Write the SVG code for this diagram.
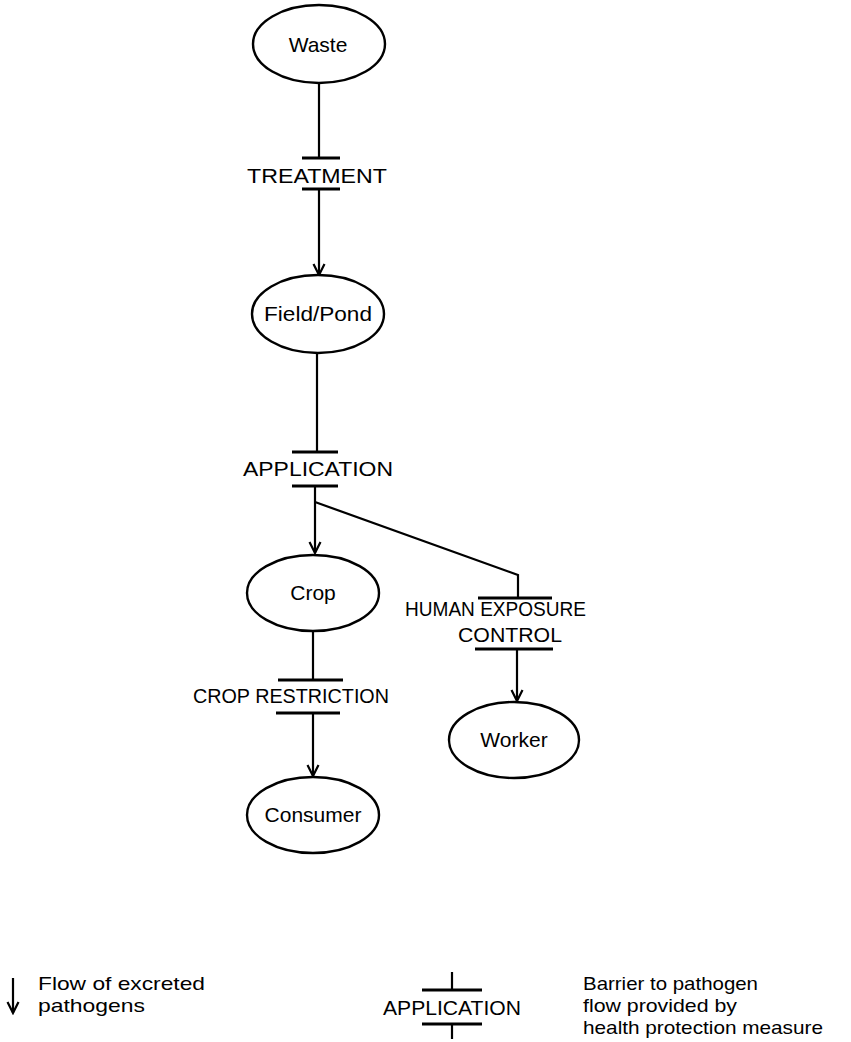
<svg xmlns="http://www.w3.org/2000/svg" width="851" height="1042" viewBox="0 0 851 1042">
<defs>
<marker id="arr" markerWidth="14" markerHeight="14" refX="12" refY="7" orient="auto" markerUnits="userSpaceOnUse">
<path d="M1,1.5 L12,7 L1,12.5" fill="none" stroke="#000" stroke-width="2.2"/>
</marker>
<style>
.node ellipse{fill:#fff;stroke:#000;stroke-width:2.4}
.nt{font-family:"Liberation Sans",Arial,sans-serif;font-size:21px;text-anchor:middle;fill:#000}
.lbl{font-family:"Liberation Sans",Arial,sans-serif;font-size:20px;fill:#000}
.leg{font-family:"Liberation Sans",Arial,sans-serif;font-size:19px;fill:#000}
.ln{stroke:#000;stroke-width:2.2;fill:none}
.bar{stroke:#000;stroke-width:3;fill:none}
</style>
</defs>
<rect width="851" height="1042" fill="#fff"/>
<g id="connectors">
<line class="ln" x1="319" y1="83" x2="319" y2="158"/>
<line class="ln" x1="319" y1="189" x2="319" y2="275" marker-end="url(#arr)"/>
<line class="ln" x1="317" y1="353" x2="317" y2="452"/>
<line class="ln" x1="315" y1="486" x2="315" y2="553" marker-end="url(#arr)"/>
<polyline class="ln" points="315,502 518,575 518,598"/>
<line class="ln" x1="517" y1="649" x2="517" y2="701" marker-end="url(#arr)"/>
<line class="ln" x1="313" y1="631" x2="313" y2="680"/>
<line class="ln" x1="313" y1="713" x2="313" y2="776" marker-end="url(#arr)"/>
</g>
<g id="barrier-treatment">
<line class="bar" x1="302" y1="158" x2="340" y2="158"/>
<text class="lbl" x="247" y="183" textLength="140" lengthAdjust="spacingAndGlyphs">TREATMENT</text>
<line class="bar" x1="302" y1="189" x2="340" y2="189"/>
</g>
<g id="barrier-application">
<line class="bar" x1="292" y1="452" x2="338" y2="452"/>
<text class="lbl" x="243" y="476" textLength="150" lengthAdjust="spacingAndGlyphs">APPLICATION</text>
<line class="bar" x1="292" y1="486" x2="338" y2="486"/>
</g>
<g id="barrier-human-exposure">
<line class="bar" x1="478" y1="598" x2="552" y2="598"/>
<text class="lbl" x="405" y="616" textLength="181" lengthAdjust="spacingAndGlyphs">HUMAN EXPOSURE</text>
<text class="lbl" x="458" y="642" textLength="104" lengthAdjust="spacingAndGlyphs">CONTROL</text>
<line class="bar" x1="475" y1="649" x2="553" y2="649"/>
</g>
<g id="barrier-crop-restriction">
<line class="bar" x1="278" y1="680" x2="343" y2="680"/>
<text class="lbl" x="193" y="703" textLength="196" lengthAdjust="spacingAndGlyphs">CROP RESTRICTION</text>
<line class="bar" x1="276" y1="713" x2="340" y2="713"/>
</g>
<g id="node-waste" class="node">
<ellipse cx="319" cy="44" rx="66" ry="39"/>
<text class="nt" x="318" y="52">Waste</text>
</g>
<g id="node-field-pond" class="node">
<ellipse cx="318" cy="314" rx="66" ry="39"/>
<text class="nt" x="318" y="321" textLength="108" lengthAdjust="spacingAndGlyphs">Field/Pond</text>
</g>
<g id="node-crop" class="node">
<ellipse cx="313" cy="593" rx="66" ry="38"/>
<text class="nt" x="313" y="600">Crop</text>
</g>
<g id="node-worker" class="node">
<ellipse cx="514" cy="740" rx="65" ry="38"/>
<text class="nt" x="514" y="747">Worker</text>
</g>
<g id="node-consumer" class="node">
<ellipse cx="313" cy="815" rx="66" ry="38"/>
<text class="nt" x="313" y="822">Consumer</text>
</g>
<g id="legend">
<line class="ln" x1="13" y1="978" x2="13" y2="1013" marker-end="url(#arr)"/>
<text class="leg" x="38" y="990" textLength="167" lengthAdjust="spacingAndGlyphs">Flow of excreted</text>
<text class="leg" x="38" y="1012" textLength="107" lengthAdjust="spacingAndGlyphs">pathogens</text>
<line class="ln" x1="452" y1="972" x2="452" y2="990"/>
<line class="bar" x1="422" y1="990" x2="482" y2="990"/>
<text class="lbl" x="383" y="1015" textLength="138" lengthAdjust="spacingAndGlyphs">APPLICATION</text>
<line class="bar" x1="422" y1="1024" x2="482" y2="1024"/>
<line class="ln" x1="452" y1="1024" x2="452" y2="1039"/>
<text class="leg" x="583" y="990" textLength="175" lengthAdjust="spacingAndGlyphs">Barrier to pathogen</text>
<text class="leg" x="583" y="1012" textLength="154" lengthAdjust="spacingAndGlyphs">flow provided by</text>
<text class="leg" x="583" y="1034" textLength="240" lengthAdjust="spacingAndGlyphs">health protection measure</text>
</g>
</svg>
